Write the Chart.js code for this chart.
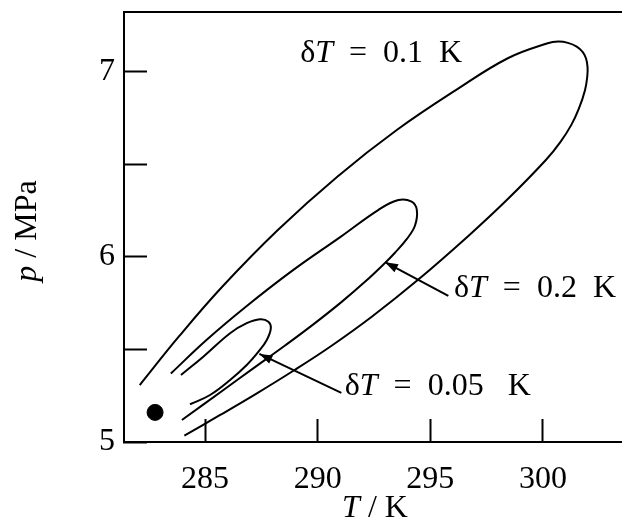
<!DOCTYPE html>
<html>
<head>
<meta charset="utf-8">
<script src="https://cdn.jsdelivr.net/npm/chart.js@4/dist/chart.umd.min.js"></script>
<style>
  html, body { margin: 0; padding: 0; background: #fff; }
  #wrap { width: 622px; height: 529px; }
</style>
</head>
<body>
<div id="wrap"><canvas id="chart" width="622" height="529"></canvas></div>
<script>
// values: T in K, p in MPa
// each curve runs from the upper branch start, round the tip, back down the lower branch
const curve01T = [282.10, 283.83, 285.76, 288.23, 290.87, 293.51, 296.15, 298.44, 300.21, 300.68, 301.11, 301.50, 301.76, 301.91, 301.98, 301.97, 301.87, 301.59, 301.26, 300.78, 300.13, 298.44, 296.70, 294.40, 292.40, 290.60, 288.92, 287.30, 285.67, 284.08];
const curve01P = [5.308, 5.569, 5.839, 6.146, 6.434, 6.686, 6.903, 7.074, 7.155, 7.164, 7.157, 7.137, 7.108, 7.074, 7.027, 6.978, 6.903, 6.800, 6.714, 6.622, 6.524, 6.313, 6.115, 5.871, 5.677, 5.519, 5.385, 5.263, 5.146, 5.035];

const curve02T = [283.48, 285.06, 286.81, 288.92, 291.03, 292.70, 293.58, 294.17, 294.40, 294.32, 293.95, 293.43, 292.99, 292.11, 291.05, 289.82, 288.58, 287.20, 285.80, 283.97];
const curve02P = [5.370, 5.551, 5.731, 5.930, 6.110, 6.255, 6.308, 6.299, 6.254, 6.170, 6.096, 6.023, 5.968, 5.867, 5.756, 5.637, 5.524, 5.403, 5.280, 5.119];

const curve005T = [283.93, 284.92, 286.11, 286.85, 287.44, 287.81, 287.92, 287.74, 287.37, 286.85, 286.11, 285.22, 284.33];
const curve005P = [5.362, 5.461, 5.588, 5.642, 5.663, 5.650, 5.615, 5.551, 5.488, 5.416, 5.335, 5.254, 5.204];

const dotT = [282.78];
const dotP = [5.16];

const xTicks = [285, 290, 295, 300];
const yTicks = [5, 5.5, 6, 6.5, 7];

const serif = '"Liberation Serif", "DejaVu Serif", serif';

function toPoints(ts, ps) {
    return ts.map((t, i) => ({ x: t, y: ps[i] }));
}

// draws "δT = value K" with an italic T, left edge at x, vertically centred on y
function drawDeltaLabel(ctx, x, y, rest) {
    ctx.textBaseline = 'middle';
    ctx.textAlign = 'left';
    ctx.font = '32px ' + serif;
    ctx.fillText('δ', x, y);
    x += ctx.measureText('δ').width;
    ctx.font = 'italic 32px ' + serif;
    ctx.fillText('T', x, y);
    x += ctx.measureText('T').width;
    ctx.font = '32px ' + serif;
    ctx.fillText(rest, x, y);
}

function drawArrow(ctx, x1, y1, x2, y2) {
    ctx.beginPath();
    ctx.moveTo(x1, y1);
    ctx.lineTo(x2, y2);
    ctx.stroke();
    const a = Math.atan2(y2 - y1, x2 - x1);
    const len = 13, half = 4.5;
    ctx.beginPath();
    ctx.moveTo(x2, y2);
    ctx.lineTo(x2 - len * Math.cos(a) + half * Math.sin(a), y2 - len * Math.sin(a) - half * Math.cos(a));
    ctx.lineTo(x2 - len * Math.cos(a) - half * Math.sin(a), y2 - len * Math.sin(a) + half * Math.cos(a));
    ctx.closePath();
    ctx.fill();
}

// labels, arrows, top frame line and axis titles
const annotations = {
    id: 'annotations',
    afterDraw(chart) {
        const ctx = chart.ctx;
        const xs = chart.scales.x, ys = chart.scales.y;
        const area = chart.chartArea;
        ctx.save();
        ctx.fillStyle = '#000';
        ctx.strokeStyle = '#000';

        // top frame
        ctx.lineWidth = 2;
        ctx.beginPath();
        ctx.moveTo(area.left - 1, area.top);
        ctx.lineTo(area.right, area.top);
        ctx.stroke();

        // arrows
        ctx.lineWidth = 2;
        drawArrow(ctx, xs.getPixelForValue(295.8), ys.getPixelForValue(5.79),
                       xs.getPixelForValue(292.99), ys.getPixelForValue(5.972));
        drawArrow(ctx, xs.getPixelForValue(291.05), ys.getPixelForValue(5.265),
                       xs.getPixelForValue(287.41), ys.getPixelForValue(5.476));

        // curve labels
        drawDeltaLabel(ctx, xs.getPixelForValue(289.22), ys.getPixelForValue(7.10), '  =  0.1  K');
        drawDeltaLabel(ctx, xs.getPixelForValue(296.05), ys.getPixelForValue(5.83), '  =  0.2  K');
        drawDeltaLabel(ctx, xs.getPixelForValue(291.2), ys.getPixelForValue(5.30), '  =  0.05   K');

        // x axis title: T / K
        ctx.textBaseline = 'middle';
        ctx.textAlign = 'left';
        ctx.font = 'italic 32px ' + serif;
        const tW = ctx.measureText('T').width;
        ctx.font = '32px ' + serif;
        const restW = ctx.measureText(' / K').width;
        let x0 = 375 - (tW + restW) / 2;
        ctx.font = 'italic 32px ' + serif;
        ctx.fillText('T', x0, 509);
        ctx.font = '32px ' + serif;
        ctx.fillText(' / K', x0 + tW, 509);

        // y axis title: p / MPa
        ctx.translate(28, 231);
        ctx.rotate(-Math.PI / 2);
        ctx.font = 'italic 32px ' + serif;
        const pW = ctx.measureText('p').width;
        ctx.font = '32px ' + serif;
        const mW = ctx.measureText(' / MPa').width;
        x0 = -(pW + mW) / 2;
        ctx.font = 'italic 32px ' + serif;
        ctx.fillText('p', x0, 0);
        ctx.font = '32px ' + serif;
        ctx.fillText(' / MPa', x0 + pW, 0);

        ctx.restore();
    }
};

const lineStyle = {
    showLine: true,
    borderColor: '#000',
    borderWidth: 2,
    pointRadius: 0,
    tension: 0.4,
    fill: false
};

// keep the plot box fixed: no extra padding from tick labels
function noPadding(scale) {
    scale.paddingTop = 0;
    scale.paddingBottom = 0;
    scale.paddingLeft = 0;
    scale.paddingRight = 0;
}

new Chart(document.getElementById('chart'), {
    type: 'scatter',
    data: {
        datasets: [
            { label: 'δT = 0.1 K', data: toPoints(curve01T, curve01P), ...lineStyle },
            { label: 'δT = 0.2 K', data: toPoints(curve02T, curve02P), ...lineStyle },
            { label: 'δT = 0.05 K', data: toPoints(curve005T, curve005P), ...lineStyle },
            { label: 'point', data: toPoints(dotT, dotP), pointRadius: 8, backgroundColor: '#000', borderColor: '#000', showLine: false }
        ]
    },
    options: {
        responsive: false,
        animation: false,
        layout: { autoPadding: false, padding: { top: 12, right: 0, left: 0, bottom: 0 } },
        plugins: {
            legend: { display: false },
            tooltip: { enabled: false }
        },
        scales: {
            x: {
                type: 'linear',
                min: 281.4,
                max: 303.51,
                afterBuildTicks: (scale) => { scale.ticks = xTicks.map(v => ({ value: v })); },
                afterFit: (scale) => { scale.height = 87; noPadding(scale); },
                ticks: {
                    color: '#000',
                    font: { family: serif, size: 32 },
                    padding: 41,
                    maxRotation: 0
                },
                grid: { drawOnChartArea: false, drawTicks: true, tickLength: -23, tickWidth: 2, tickColor: '#000' },
                border: { display: true, color: '#000', width: 2 }
            },
            y: {
                type: 'linear',
                min: 5,
                max: 7.324,
                afterBuildTicks: (scale) => { scale.ticks = yTicks.map(v => ({ value: v })); },
                afterFit: (scale) => { scale.width = 124; noPadding(scale); },
                ticks: {
                    color: '#000',
                    font: { family: serif, size: 32 },
                    padding: 32,
                    callback: (v) => Number.isInteger(v) ? String(v) : ''
                },
                grid: { drawOnChartArea: false, drawTicks: true, tickLength: -23, tickWidth: 2, tickColor: '#000' },
                border: { display: true, color: '#000', width: 2 }
            }
        }
    },
    plugins: [annotations]
});
</script>
</body>
</html>
